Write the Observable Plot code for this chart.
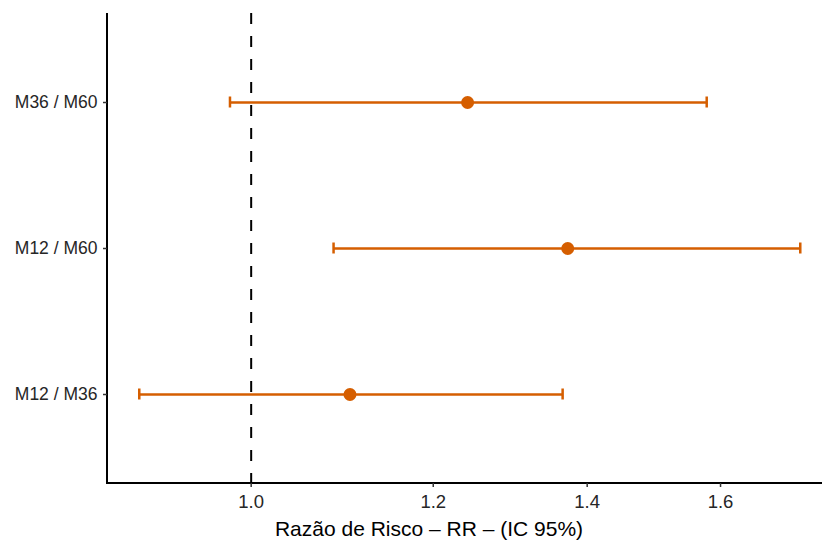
<!DOCTYPE html>
<html><head><meta charset="utf-8">
<script src="https://cdn.jsdelivr.net/npm/d3@7"></script>
<script src="https://cdn.jsdelivr.net/npm/@observablehq/plot@0.6"></script>
<style>body{margin:0;background:#fff;} svg{font-family:"Liberation Sans",Arial,sans-serif;}</style>
</head><body><div id="chart"></div>
<script>
const comparisons = ["M36 / M60", "M12 / M60", "M12 / M36"];
const rr = [1.242, 1.373, 1.104];
const lower = [0.979, 1.086, 0.894];
const upper = [1.578, 1.733, 1.366];
const xTicks = [1.0, 1.2, 1.4, 1.6];
const refValue = [1];
const xTitle = "Razão de Risco – RR – (IC 95%)";

const data = comparisons.map((c, i) => ({c, rr: rr[i], lo: lower[i], hi: upper[i]}));
const orange = "#D55E00";
const fmt = d3.format(".1f");

const axisLines = (index, scales, values, dim) => {
  const g = d3.create("svg:g");
  const x0 = dim.marginLeft, x1 = dim.width - dim.marginRight;
  const y0 = dim.marginTop, y1 = dim.height - dim.marginBottom;
  g.append("path").attr("d", `M${x0},${y0}V${y1}H${x1}`)
    .attr("fill", "none").attr("stroke", "#000").attr("stroke-width", 2);
  return g.node();
};

const chart = Plot.plot({
  width: 822, height: 545,
  marginLeft: 107, marginRight: 0, marginTop: 13, marginBottom: 62,
  x: {type: "log", domain: [0.866, 1.772]},
  y: {type: "point", domain: comparisons, padding: 0.6},
  marks: [
    Plot.ruleX(refValue, {stroke: "#000", strokeWidth: 2, strokeDasharray: "11,12"}),
    Plot.ruleY(data, {y: "c", x1: "lo", x2: "hi", stroke: orange, strokeWidth: 2.5}),
    Plot.ruleX(data, {x: "lo", y1: "c", y2: "c", insetTop: -5.5, insetBottom: -5.5, stroke: orange, strokeWidth: 2.5}),
    Plot.ruleX(data, {x: "hi", y1: "c", y2: "c", insetTop: -5.5, insetBottom: -5.5, stroke: orange, strokeWidth: 2.5}),
    Plot.dot(data, {x: "rr", y: "c", r: 6.5, fill: orange, stroke: "none"}),
    axisLines,
    Plot.axisX({ticks: xTicks, tickSize: 4, text: null, stroke: "#333", strokeWidth: 1.5, label: null}),
    Plot.text(xTicks, {x: d => d, text: d => fmt(d), frameAnchor: "bottom", lineAnchor: "top", dy: 11, fontSize: 18.5, fill: "#262626"}),
    Plot.axisY({tickSize: 4, tickPadding: 6, fontSize: 17.5, fill: "#262626", stroke: "#333", strokeWidth: 1.5, label: null}),
    Plot.text([xTitle], {frameAnchor: "bottom", dx: -36, dy: 52, fontSize: 21, fill: "#000", text: d => d})
  ],
  style: {fontFamily: "Liberation Sans, Arial, sans-serif", background: "#fff", overflow: "visible"}
});
document.getElementById("chart").append(chart);
</script></body></html>
